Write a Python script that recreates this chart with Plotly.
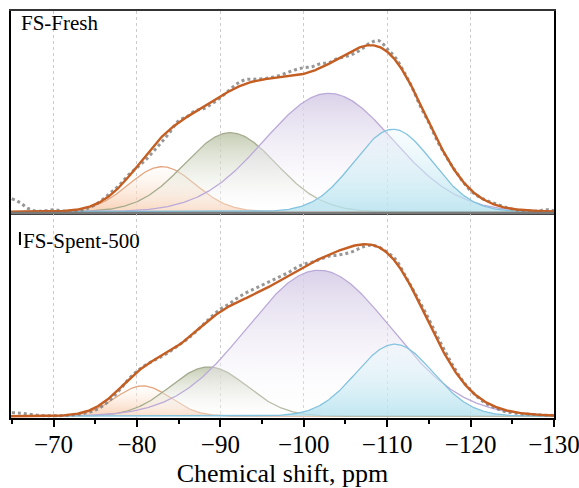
import numpy as np
import plotly.graph_objects as go
from plotly.subplots import make_subplots

# ---------------- data ----------------
ppm = list(range(-65, -131, -1))

fresh_exp = [13, 9, 3, 0.5, 1, 2, 0.8, 0.5, 1, 3, 7, 13, 20, 27.5, 37, 44, 51.5, 60.5, 70, 80,
             91, 95, 101, 103, 108, 114, 121, 128, 132, 132.5, 133, 134, 136, 139, 142, 144, 145,
             148, 149, 153, 155, 158, 163, 169, 171, 163, 154, 140, 124, 105, 89, 71, 56, 43, 31,
             21, 15, 11, 8, 5, 2.5, 1.2, 0.8, 0.6, 2, 1]

spent_exp = [3.5, 3, 2, 1, 0.5, 0.5, 0.6, 1, 2, 3.5, 6, 11, 18, 27, 37, 45, 51, 55.5, 60, 65,
             71, 77, 84, 92, 100, 107, 112, 118, 123, 127, 131, 135, 139, 143, 148, 152, 154,
             157, 160, 161, 162.5, 165, 169, 171, 169, 164, 157, 143, 128, 113, 97, 80, 64, 49,
             36, 26, 18, 12, 8, 5, 3.5, 2.5, 2, 1.5, 1, 0.8]

# fitted Gaussian components (centre ppm, height, sigma ppm)
fresh_centers = [-83.0, -91.2, -103.0, -110.7]
fresh_heights = [45.0, 79.0, 118.4, 82.4]
fresh_sigmas = [4.0, 5.5, 7.7, 4.7]

spent_centers = [-80.7, -88.6, -101.8, -110.9]
spent_heights = [30.3, 49.3, 146.0, 72.0]
spent_sigmas = [3.3, 4.6, 8.6, 4.6]

panel_labels = ["FS-Fresh", "FS-Spent-500"]
x_ticks = [-70, -80, -90, -100, -110, -120, -130]

# ---------------- styles ----------------
line_colors = ["#E3A57E", "#A4AB8E", "#BBAAD8", "#82C3DF"]
grad_bottom = ["rgba(246,198,164,0.8)", "rgba(255,255,255,0.15)",
               "rgba(255,255,255,0.15)", "rgba(178,224,237,0.8)"]
grad_top = ["rgba(255,250,245,0.3)", "rgba(188,197,168,0.85)",
            "rgba(212,202,229,0.85)", "rgba(235,248,252,0.35)"]
fit_color = "#C45E22"
serif = "Liberation Serif"

fig = make_subplots(rows=2, cols=1, shared_xaxes=True, vertical_spacing=0,
                    row_heights=[0.4963, 0.5037])

xf = np.linspace(-64.9, -130, 652)

for row, (cen, hgt, sig, exp) in enumerate(
        [(fresh_centers, fresh_heights, fresh_sigmas, fresh_exp),
         (spent_centers, spent_heights, spent_sigmas, spent_exp)], start=1):
    total = np.zeros_like(xf)
    for i in range(4):
        comp = hgt[i] * np.exp(-0.5 * ((xf - cen[i]) / sig[i]) ** 2)
        total += comp
        fig.add_trace(go.Scatter(
            x=xf, y=comp, mode="lines",
            line=dict(color=line_colors[i], width=1.3),
            fill="tozeroy",
            fillgradient=dict(type="vertical",
                              colorscale=[[0, grad_bottom[i]], [1, grad_top[i]]]),
            showlegend=False, hoverinfo="skip"), row=row, col=1)
    fig.add_trace(go.Scatter(
        x=ppm, y=exp, mode="lines",
        line=dict(color="rgba(125,125,125,0.8)", width=3, dash="dot", shape="spline", smoothing=1.0),
        showlegend=False), row=row, col=1)
    fig.add_trace(go.Scatter(
        x=xf, y=total, mode="lines",
        line=dict(color=fit_color, width=2.4),
        showlegend=False), row=row, col=1)

axis_common = dict(range=[-64.9, -130], tickvals=x_ticks, showgrid=True,
                   gridcolor="#cccccc", griddash="3px,3px", gridwidth=1, zeroline=False)

fig.update_xaxes(row=1, col=1, showline=True, mirror=True, linecolor="#333333", linewidth=1.6,
                 ticks="", showticklabels=False, **axis_common)
fig.update_xaxes(row=2, col=1, showline=True, linecolor="black", linewidth=2,
                 ticks="outside", ticklen=7, tickwidth=1.5, tickcolor="black",
                 minor=dict(dtick=5, tick0=-70, ticks="outside", ticklen=4, tickwidth=1.5,
                            tickcolor="black", showgrid=False),
                 showticklabels=True, ticklabeloverflow="allow", ticklabelstandoff=-4,
                 tickfont=dict(family=serif, size=25, color="black"),
                 title=dict(text="Chemical shift, ppm", standoff=9,
                            font=dict(family=serif, size=26, color="black")),
                 **axis_common)

fig.update_yaxes(row=1, col=1, range=[-1.3, 200.7])
fig.update_yaxes(row=2, col=1, range=[-1.8, 203.2])
fig.update_yaxes(showline=True, mirror=True, linecolor="black", linewidth=2,
                 showticklabels=False, ticks="", showgrid=False, zeroline=False)

fig.add_annotation(text=panel_labels[0], xref="paper", yref="paper", x=0.015, y=0.971,
                   xanchor="left", yanchor="middle", showarrow=False,
                   font=dict(family=serif, size=21, color="black"))
fig.add_annotation(text=panel_labels[1], xref="paper", yref="paper", x=0.019, y=0.435,
                   xanchor="left", yanchor="middle", showarrow=False,
                   font=dict(family=serif, size=21, color="black"))

# separator between panels and small cursor mark
fig.add_shape(type="line", xref="paper", yref="paper", x0=0, x1=1, y0=0.5037, y1=0.5037,
              line=dict(color="#7a7a7a", width=2.5))
fig.add_shape(type="line", xref="paper", yref="paper", x0=0.0165, x1=0.0165, y0=0.425, y1=0.457,
              line=dict(color="black", width=2))

fig.update_layout(width=579, height=488, margin=dict(l=11, r=25, t=11, b=70, autoexpand=False),
                  plot_bgcolor="white", paper_bgcolor="white",
                  font=dict(family=serif, color="black"))

fig.write_html("out.html", config={"displayModeBar": False},
               post_script="document.body.style.margin='0px';")
